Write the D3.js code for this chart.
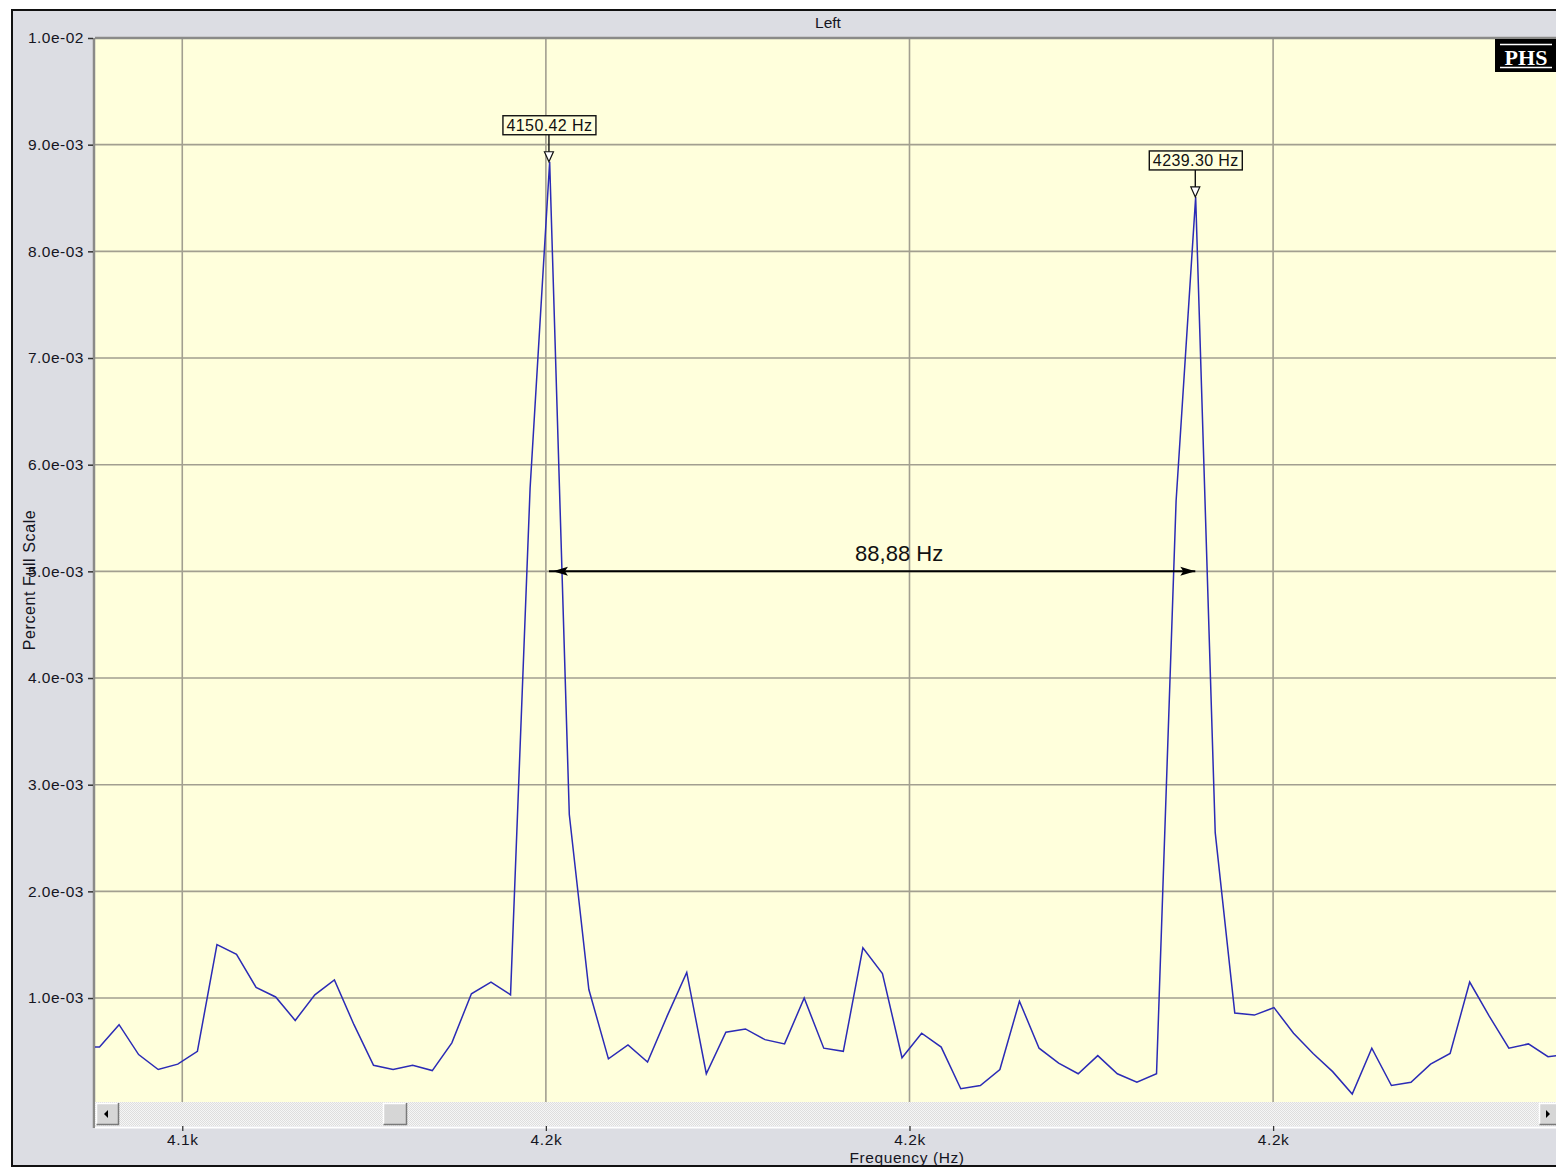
<!DOCTYPE html>
<html>
<head>
<meta charset="utf-8">
<script src="https://cdn.jsdelivr.net/npm/d3@7"></script>
<style>
  html, body { margin: 0; padding: 0; background: #ffffff; }
  svg { display: block; font-family: "Liberation Sans", Arial, sans-serif; }
</style>
</head>
<body>
<svg id="chart" width="1556" height="1168"></svg>
<script>
// FFT bin centre frequencies (Hz), 44.1 kHz / 16384-point analysis
const freqs = [
  4085.93, 4088.62, 4091.31, 4094.00, 4096.69, 4099.38, 4102.08, 4104.77, 4107.46, 4110.15,
  4112.84, 4115.53, 4118.23, 4120.92, 4123.61, 4126.30, 4128.99, 4131.68, 4134.38, 4137.07,
  4139.76, 4142.45, 4145.14, 4147.83, 4150.52, 4153.22, 4155.91, 4158.60, 4161.29, 4163.98,
  4166.67, 4169.37, 4172.06, 4174.75, 4177.44, 4180.13, 4182.82, 4185.52, 4188.21, 4190.90,
  4193.59, 4196.28, 4198.97, 4201.67, 4204.36, 4207.05, 4209.74, 4212.43, 4215.12, 4217.82,
  4220.51, 4223.20, 4225.89, 4228.58, 4231.27, 4233.97, 4236.66, 4239.35, 4242.04, 4244.73,
  4247.42, 4250.12, 4252.81, 4255.50, 4258.19, 4260.88, 4263.57, 4266.27, 4268.96, 4271.65,
  4274.34, 4277.03, 4279.72, 4282.42, 4285.11, 4287.80, 4290.49
];

// Magnitude per bin (percent full scale)
const levels = [
  0.00054, 0.00054, 0.00075, 0.00047, 0.00033, 0.00038, 0.00050, 0.00150, 0.00141, 0.00110,
  0.00101, 0.00079, 0.00103, 0.00117, 0.00075, 0.00037, 0.00033, 0.00037, 0.00032, 0.00058,
  0.00104, 0.00115, 0.00103, 0.00578, 0.00884, 0.00272, 0.00108, 0.00043, 0.00056, 0.00040,
  0.00083, 0.00124, 0.00029, 0.00068, 0.00071, 0.00061, 0.00057, 0.00100, 0.00053, 0.00050,
  0.00147, 0.00123, 0.00044, 0.00067, 0.00054, 0.00015, 0.00018, 0.00033, 0.00097, 0.00053,
  0.00039, 0.00029, 0.00046, 0.00029, 0.00021, 0.00029, 0.00566, 0.00851, 0.00255, 0.00086,
  0.00084, 0.00091, 0.00067, 0.00048, 0.00031, 0.00010, 0.00053, 0.00018, 0.00021, 0.00038,
  0.00048, 0.00115, 0.00083, 0.00053, 0.00057, 0.00045, 0.00047
];

const yTicks = [0.001, 0.002, 0.003, 0.004, 0.005, 0.006, 0.007, 0.008, 0.009, 0.010];
const yTickLabels = ["1.0e-03", "2.0e-03", "3.0e-03", "4.0e-03", "5.0e-03",
                     "6.0e-03", "7.0e-03", "8.0e-03", "9.0e-03", "1.0e-02"];
const xTicks = [4100, 4150, 4200, 4250];
const xTickLabels = ["4.1k", "4.2k", "4.2k", "4.2k"];

const peakFreqs = [4150.42, 4239.30];
const peakLabels = ["4150.42 Hz", "4239.30 Hz"];
const spacingLabel = "88,88 Hz";
const spacingLevel = 0.005;

const titleText = "Left";
const xTitle = "Frequency (Hz)";
const yTitle = "Percent Full Scale";
const badgeText = "PHS";

// ---- layout ----
const plot = { left: 95, top: 38, right: 1556, bottom: 1102 };
const svg = d3.select("#chart");

const x = d3.scaleLinear().domain([4088.0, 4288.9]).range([plot.left, plot.right]);
const y = d3.scaleLinear().domain([0, 0.01]).range([1104.7, plot.top]);

const labelFill = "#15151f";

// window frame
svg.append("rect").attr("x", 12).attr("y", 10).attr("width", 1560).attr("height", 1156)
  .attr("fill", "#dcdde3").attr("stroke", "#111").attr("stroke-width", 2);

// title
svg.append("text").attr("x", 828).attr("y", 28).attr("text-anchor", "middle")
  .attr("font-size", 15.5).attr("fill", labelFill).text(titleText);

// plot background
svg.append("rect").attr("x", plot.left).attr("y", plot.top)
  .attr("width", plot.right - plot.left).attr("height", plot.bottom - plot.top)
  .attr("fill", "#ffffdc");

const defs = svg.append("defs");
defs.append("clipPath").attr("id", "plotClip").append("rect")
  .attr("x", plot.left).attr("y", plot.top)
  .attr("width", plot.right - plot.left).attr("height", plot.bottom - plot.top);

// grid
const grid = svg.append("g").attr("stroke", "#a29f90").attr("stroke-width", 1.6);
grid.selectAll("line.h").data(yTicks.filter(v => v < 0.01)).join("line")
  .attr("x1", plot.left).attr("x2", plot.right)
  .attr("y1", d => y(d)).attr("y2", d => y(d));
grid.selectAll("line.v").data(xTicks).join("line")
  .attr("y1", plot.top).attr("y2", plot.bottom)
  .attr("x1", d => x(d)).attr("x2", d => x(d));

// plot border (top & left)
svg.append("line").attr("x1", plot.left).attr("x2", plot.right)
  .attr("y1", plot.top).attr("y2", plot.top).attr("stroke", "#8a8a88").attr("stroke-width", 2.5);
svg.append("line").attr("x1", plot.left - 1).attr("x2", plot.left - 1)
  .attr("y1", plot.top).attr("y2", 1128).attr("stroke", "#8a8a88").attr("stroke-width", 2.5);

// spectrum trace
const line = d3.line().x((d, i) => x(freqs[i])).y(d => y(d));
svg.append("path").datum(levels)
  .attr("clip-path", "url(#plotClip)")
  .attr("d", line)
  .attr("fill", "none").attr("stroke", "#2b2bb6").attr("stroke-width", 1.5)
  .attr("stroke-linejoin", "miter");

// y axis
const yAxis = d3.axisLeft(y).tickValues(yTicks)
  .tickFormat((d, i) => yTickLabels[i]).tickSize(5).tickPadding(4);
const yg = svg.append("g").attr("transform", `translate(${plot.left - 2},0)`).call(yAxis);
yg.select(".domain").remove();
yg.selectAll(".tick line").attr("stroke", "#333").attr("stroke-width", 1.5);
yg.selectAll(".tick text").attr("font-family", "Liberation Sans, Arial, sans-serif")
  .attr("font-size", 15.5).attr("letter-spacing", 0.5).attr("fill", labelFill);

svg.append("text")
  .attr("transform", "translate(35,580) rotate(-90)")
  .attr("text-anchor", "middle").attr("font-size", 16).attr("letter-spacing", 0.6)
  .attr("fill", labelFill).text(yTitle);

// scrollbar
const pat = defs.append("pattern").attr("id", "dither").attr("width", 2).attr("height", 2)
  .attr("patternUnits", "userSpaceOnUse");
pat.append("rect").attr("width", 2).attr("height", 2).attr("fill", "#f6f6f6");
pat.append("rect").attr("width", 1).attr("height", 1).attr("fill", "#dedede");
pat.append("rect").attr("x", 1).attr("y", 1).attr("width", 1).attr("height", 1).attr("fill", "#dedede");

const sb = { top: 1102, bottom: 1126 };
svg.append("rect").attr("x", plot.left).attr("y", sb.top)
  .attr("width", plot.right - plot.left).attr("height", sb.bottom - sb.top)
  .attr("fill", "url(#dither)");
svg.append("line").attr("x1", plot.left).attr("x2", plot.right)
  .attr("y1", sb.bottom + 1.5).attr("y2", sb.bottom + 1.5)
  .attr("stroke", "#ffffff").attr("stroke-width", 2);

function bevelButton(bx, bw) {
  const g = svg.append("g");
  g.append("rect").attr("x", bx).attr("y", sb.top + 1).attr("width", bw).attr("height", sb.bottom - sb.top - 2)
    .attr("fill", "#d6d6d6");
  g.append("path").attr("d", `M${bx + 0.5},${sb.bottom - 1} V${sb.top + 1.5} H${bx + bw - 0.5}`)
    .attr("fill", "none").attr("stroke", "#ffffff").attr("stroke-width", 1.5);
  g.append("path").attr("d", `M${bx + 0.5},${sb.bottom - 1.5} H${bx + bw - 0.5} V${sb.top + 1}`)
    .attr("fill", "none").attr("stroke", "#7a7a7a").attr("stroke-width", 1.5);
  return g;
}
bevelButton(96, 23).append("path")
  .attr("d", `M104,1114 L108,1110 L108,1118 Z`).attr("fill", "#000");
bevelButton(383, 24);
bevelButton(1539, 20).append("path")
  .attr("d", `M1550,1114 L1546,1110 L1546,1118 Z`).attr("fill", "#000");

// x axis
const xAxis = d3.axisBottom(x).tickValues(xTicks)
  .tickFormat((d, i) => xTickLabels[i]).tickSize(5).tickPadding(3);
const xg = svg.append("g").attr("transform", `translate(0,${sb.bottom})`).call(xAxis);
xg.select(".domain").remove();
xg.selectAll(".tick line").attr("stroke", "#333").attr("stroke-width", 1.3);
xg.selectAll(".tick text").attr("font-family", "Liberation Sans, Arial, sans-serif")
  .attr("font-size", 15.5).attr("letter-spacing", 0.6).attr("fill", labelFill);

svg.append("text").attr("x", 907).attr("y", 1163).attr("text-anchor", "middle")
  .attr("font-size", 15.5).attr("letter-spacing", 0.6).attr("fill", labelFill).text(xTitle);

// peak markers
function nearestLevel(f) {
  let best = 0;
  freqs.forEach((v, i) => { if (Math.abs(v - f) < Math.abs(freqs[best] - f)) best = i; });
  return levels[best];
}
const markers = svg.append("g");
peakFreqs.forEach((f, i) => {
  const px = x(f);
  const tip = y(nearestLevel(f));
  const g = markers.append("g");
  g.append("path").attr("d", `M${px - 4.5},${tip - 10} L${px + 4.5},${tip - 10} L${px},${tip} Z`)
    .attr("fill", "#ffffff").attr("stroke", "#111").attr("stroke-width", 1.2);
  g.append("line").attr("x1", px).attr("x2", px).attr("y1", tip - 27).attr("y2", tip - 10)
    .attr("stroke", "#111").attr("stroke-width", 1.4);
  g.append("rect").attr("x", px - 46).attr("y", tip - 46).attr("width", 93).attr("height", 19)
    .attr("fill", "#ffffdc").attr("stroke", "#111").attr("stroke-width", 1.4);
  g.append("text").attr("x", px + 0.5).attr("y", tip - 31).attr("text-anchor", "middle")
    .attr("font-size", 16).attr("letter-spacing", 0.4).attr("fill", "#111").text(peakLabels[i]);
});

// spacing dimension arrow
const ax1 = x(peakFreqs[0]), ax2 = x(peakFreqs[1]), ay = y(spacingLevel);
const dim = svg.append("g");
dim.append("line").attr("x1", ax1).attr("x2", ax2).attr("y1", ay).attr("y2", ay)
  .attr("stroke", "#000").attr("stroke-width", 2);
dim.append("path").attr("d", `M${ax1 + 4},${ay} L${ax1 + 19},${ay - 4.5} L${ax1 + 16},${ay} L${ax1 + 19},${ay + 4.5} Z`)
  .attr("fill", "#000");
dim.append("path").attr("d", `M${ax2},${ay} L${ax2 - 15},${ay - 4.5} L${ax2 - 12},${ay} L${ax2 - 15},${ay + 4.5} Z`)
  .attr("fill", "#000");
dim.append("text").attr("x", (ax1 + ax2) / 2 + 27).attr("y", ay - 10).attr("text-anchor", "middle")
  .attr("font-size", 22).attr("fill", "#111").text(spacingLabel);

// badge
const badge = svg.append("g");
badge.append("rect").attr("x", 1495).attr("y", 39).attr("width", 70).attr("height", 33).attr("fill", "#000");
badge.append("line").attr("x1", 1500).attr("x2", 1552).attr("y1", 44.5).attr("y2", 44.5)
  .attr("stroke", "#fff").attr("stroke-width", 1.5);
badge.append("line").attr("x1", 1500).attr("x2", 1552).attr("y1", 67.5).attr("y2", 67.5)
  .attr("stroke", "#fff").attr("stroke-width", 1.5);
badge.append("text").attr("x", 1526).attr("y", 64.5).attr("text-anchor", "middle")
  .attr("font-family", "Liberation Serif, Times New Roman, serif").attr("font-weight", "bold")
  .attr("font-size", 22).attr("fill", "#fff").text(badgeText);
</script>
</body>
</html>
